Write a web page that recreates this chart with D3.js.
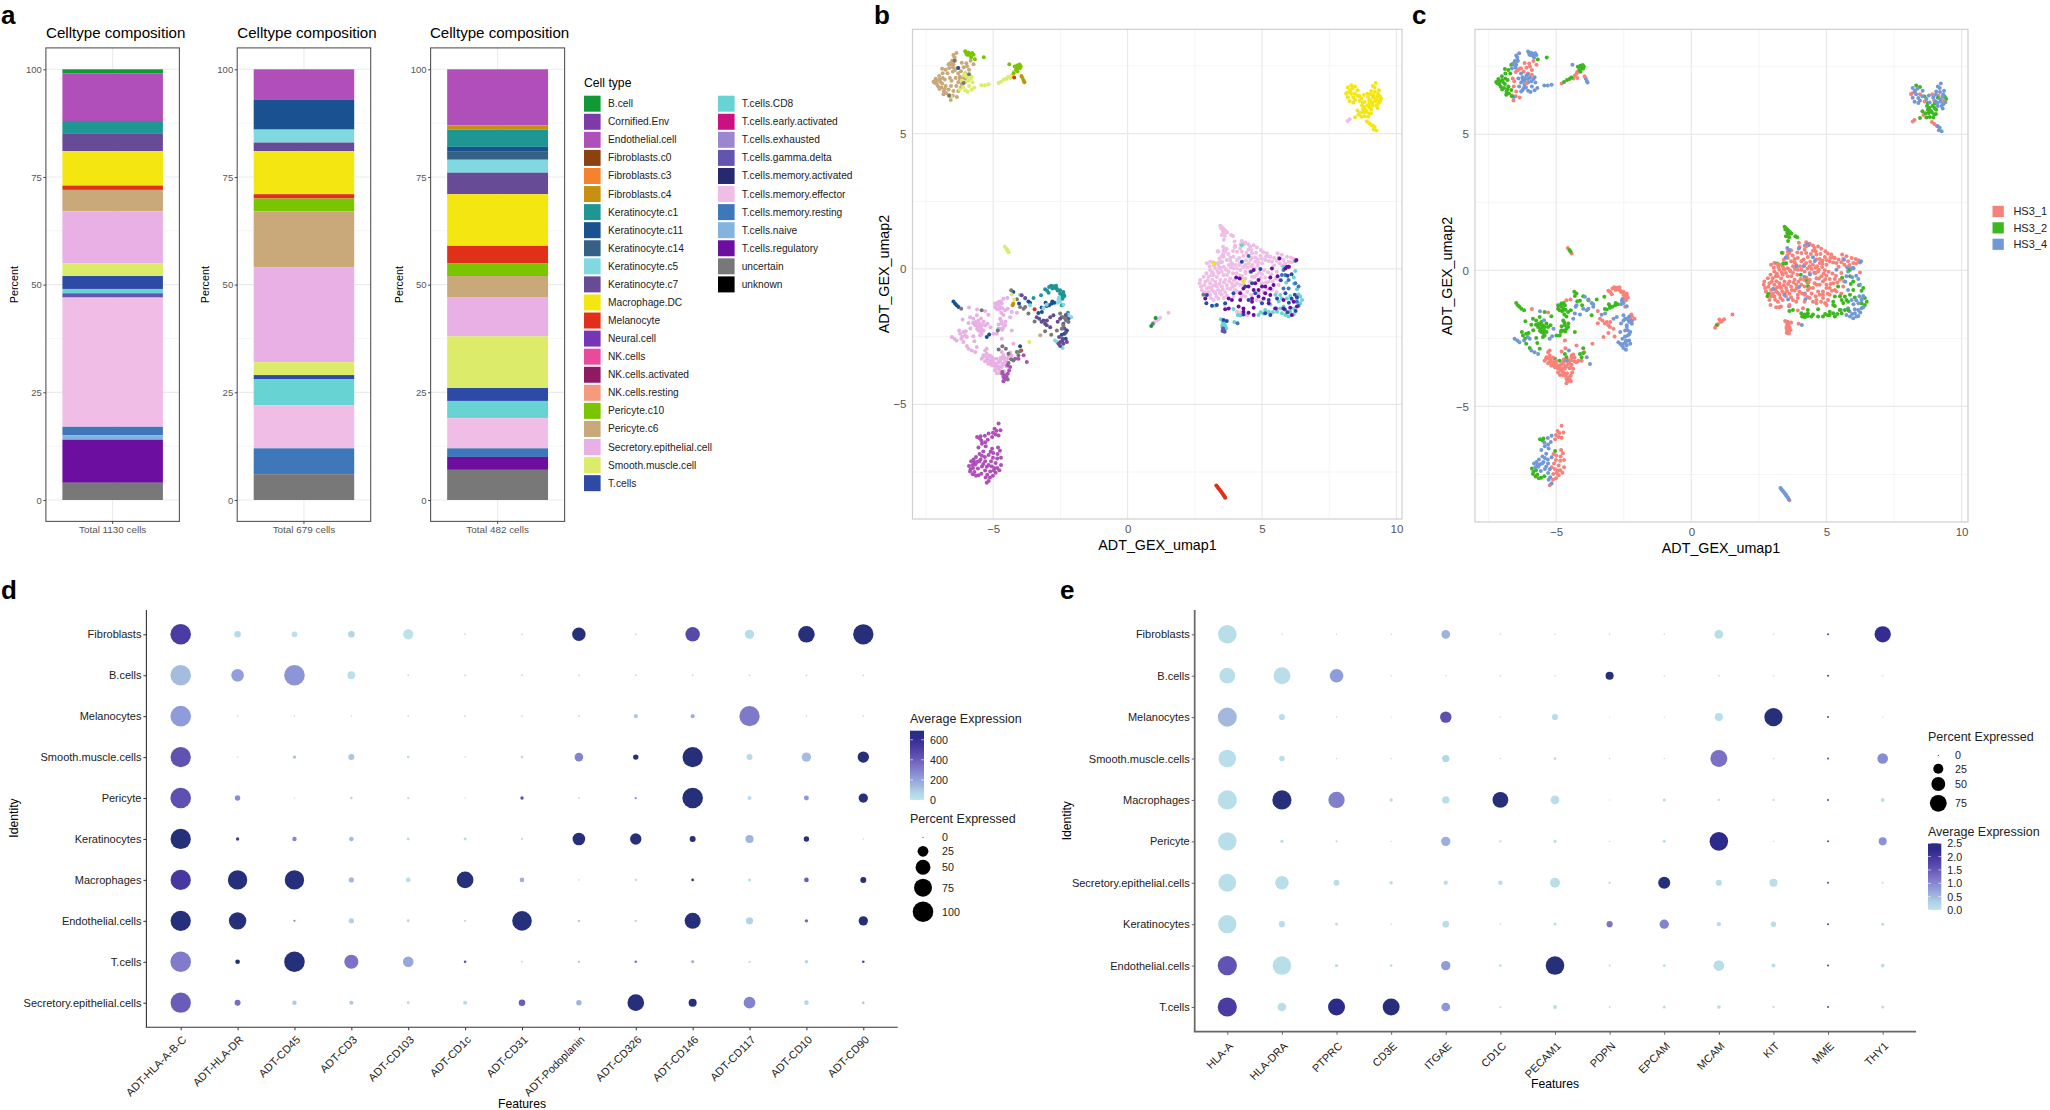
<!DOCTYPE html>
<html><head><meta charset="utf-8">
<script src="https://cdn.jsdelivr.net/npm/d3@7/dist/d3.min.js"></script>
<style>
html,body{margin:0;padding:0;background:#fff}
svg{display:block}
text{font-family:"Liberation Sans",Arial,sans-serif}
</style></head><body><svg id="c" width="2050" height="1110"></svg>
<script>
// ---------- DATA ----------
const legendCol1=["B.cell","Cornified.Env","Endothelial.cell","Fibroblasts.c0","Fibroblasts.c3","Fibroblasts.c4","Keratinocyte.c1","Keratinocyte.c11","Keratinocyte.c14","Keratinocyte.c5","Keratinocyte.c7","Macrophage.DC","Melanocyte","Neural.cell","NK.cells","NK.cells.activated","NK.cells.resting","Pericyte.c10","Pericyte.c6","Secretory.epithelial.cell","Smooth.muscle.cell","T.cells"];
const legendCol2=["T.cells.CD8","T.cells.early.activated","T.cells.exhausted","T.cells.gamma.delta","T.cells.memory.activated","T.cells.memory.effector","T.cells.memory.resting","T.cells.naive","T.cells.regulatory","uncertain","unknown"];
const typeColors={"B.cell":"#109A36","Cornified.Env":"#7E3BA8","Endothelial.cell":"#B04FBA","Fibroblasts.c0":"#8A4212","Fibroblasts.c3":"#F5822D","Fibroblasts.c4":"#C7900F","Keratinocyte.c1":"#1F9594","Keratinocyte.c11":"#1A5190","Keratinocyte.c14":"#366186","Keratinocyte.c5":"#80D9E1","Keratinocyte.c7":"#674B97","Macrophage.DC":"#F4E611","Melanocyte":"#E0301A","Neural.cell":"#7436B4","NK.cells":"#E84B9C","NK.cells.activated":"#8E1A64","NK.cells.resting":"#F49A7D","Pericyte.c10":"#7BC400","Pericyte.c6":"#C9A87A","Secretory.epithelial.cell":"#E8B0E4","Smooth.muscle.cell":"#DDEB6B","T.cells":"#2D4BA6","T.cells.CD8":"#68D3D3","T.cells.early.activated":"#C9117F","T.cells.exhausted":"#9D86D0","T.cells.gamma.delta":"#6354B0","T.cells.memory.activated":"#28286F","T.cells.memory.effector":"#EFBDE6","T.cells.memory.resting":"#3E78BA","T.cells.naive":"#82B4DE","T.cells.regulatory":"#6C0FA0","uncertain":"#787878","unknown":"#000000"};

const comp1Types=["B.cell","Endothelial.cell","Keratinocyte.c1","Keratinocyte.c7","Macrophage.DC","Melanocyte","Pericyte.c6","Secretory.epithelial.cell","Smooth.muscle.cell","T.cells","T.cells.CD8","T.cells.gamma.delta","T.cells.memory.effector","T.cells.memory.resting","T.cells.naive","T.cells.regulatory","uncertain"];
const comp1Pct=[1,11,3,4,8,1,5,12,3,3,1,1,30,2,1,10,4];
const comp2Types=["Endothelial.cell","Keratinocyte.c11","Keratinocyte.c5","Keratinocyte.c7","Macrophage.DC","Melanocyte","Pericyte.c10","Pericyte.c6","Secretory.epithelial.cell","Smooth.muscle.cell","T.cells","T.cells.CD8","T.cells.memory.effector","T.cells.memory.resting","uncertain"];
const comp2Pct=[7,7,3,2,10,1,3,13,22,3,1,6,10,6,6];
const comp3Types=["Endothelial.cell","Fibroblasts.c4","Keratinocyte.c1","Keratinocyte.c11","Keratinocyte.c14","Keratinocyte.c5","Keratinocyte.c7","Macrophage.DC","Melanocyte","Pericyte.c10","Pericyte.c6","Secretory.epithelial.cell","Smooth.muscle.cell","T.cells","T.cells.CD8","T.cells.memory.effector","T.cells.memory.resting","T.cells.regulatory","uncertain"];
const comp3Pct=[13,1,4,1,2,3,5,12,4,3,5,9,12,3,4,7,2,3,7];
const compLabels=["Total 1130 cells","Total 679 cells","Total 482 cells"];

const sampleNames=["HS3_1","HS3_2","HS3_4"];
const sampleColors=["#F8827A","#3CB81E","#7299D6"];
const S1="HS3_1",S2="HS3_2",S4="HS3_4";
const EFF="T.cells.memory.effector",SEC="Secretory.epithelial.cell",REG="T.cells.regulatory",TC="T.cells",CD8="T.cells.CD8",RES="T.cells.memory.resting",K1="Keratinocyte.c1",K11="Keratinocyte.c11",K5="Keratinocyte.c5",K7="Keratinocyte.c7",UN="uncertain",END="Endothelial.cell",C6="Pericyte.c6",C10="Pericyte.c10",SMC="Smooth.muscle.cell",MAC="Macrophage.DC",MEL="Melanocyte",GD="T.cells.gamma.delta",F4="Fibroblasts.c4",BC="B.cell";

const effectorS1=[3.98,1.01,4,.86,4.25,1.03,4.38,.98,4.5,.91,4.69,.88,4.81,.79,4.96,.7,4.56,.82,4.19,.76,4.25,.64,4.07,.64,3.92,.66,3.69,.74,3.57,.68,3.38,.64,3.63,.64,4.31,.49,4.63,.58,4.75,.42,4.94,.49,5.18,.58,5.31,.45,5.25,.29,5.12,.33,5,.21,5.37,.27,5.58,.58,5.74,.52,5.93,.45,6.08,.42,5.8,.33,5.66,.21,5.99,.27,6.18,.37,2.95,.21,3.07,.27,3.26,.21,3.42,.39,3.57,.45,3.69,.33,3.82,.42,3.94,.45,3.51,.27,3.38,.15,3.57,.08,3.76,.15,3.88,.21,4.07,.33,4.19,.21,4.38,.15,4.5,.21,4.75,.27,3.94,.02,4.07,.02,4.19,-.04,4.38,-.1,3.26,.02,3.07,-.04,2.93,-.16,2.83,-.29,2.7,-.41,3.01,-.29,3.2,-.22,3.38,-.16,3.57,-.22,3.76,-.1,3.82,-.35,3.63,-.41,3.45,-.41,3.26,-.47,3.07,-.53,2.89,-.47,2.73,-.65,2.95,-.72,3.14,-.78,3.32,-.65,3.51,-.65,3.69,-.59,3.88,-.53,2.68,-.53,2.76,-.78,2.89,-.86,3.07,-.96,3.26,-.9,3.45,-.84,3.63,-.86,3.82,-.74,4.07,-.53,4.19,-.59,4,-.78,3.38,-1.09,3.2,-1.15,3.69,-.99,4.38,-1.02,4.63,-.29,4.81,-.22,5,-.2,5.12,-.32,5.25,-.47,5,-.53,4.87,-.9,5.37,-.78,5.62,-.59,4.56,-.47,4.38,-.35,3.94,-1.02,3.16,-.12,3.45,.03,3.67,-.03,3.92,-.16,4.26,-.26,3.32,-.3,3.1,-.7,3.7,-.22,4.84,.12,4.6,.1,5.45,.13,5.55,-.1];
const effectorS1b=[3.05,.1,3.22,.12,3.42,.05,3.12,-.22,2.98,-.42,3.15,-.4,3.35,-.08,3.5,-.1,3.65,.0,3.83,.05,4.02,.15,4.3,.07,4.45,.05,4.65,.15,4.85,.25,3.28,-.58,3.42,-.55,3.58,-.5,3.78,-.45,3.96,-.42,3.18,-.62,2.85,-.6,3.02,-.85,3.2,-.82,3.36,-.78,3.54,-.76,3.72,-.72,3.9,-.66,3.5,-.95,3.3,-1.02,3.1,-1.08,4.4,.32,4.62,.4,4.85,.36,5,.38,5.14,.45,4.42,.6,4.6,.7,4.78,.6,5.05,.62,5.25,.47,5.45,.4,5.62,.42,5.85,.2,6.1,.25,5.75,.12,5.55,.3,4.72,.02,4.9,-.12,5.08,-.05,5.22,-.12,5.35,-.2,5.5,-.35,5.4,-.45,4.72,-.3,4.95,-.33,5.15,-.5,4.95,-1.2,4.8,-1.15,4.45,-.85,4.6,-.95,4.1,-.85,4.3,-.98,5.05,-.85,5.2,-.75,5.55,-.85,5.65,-.4,3.75,.55,3.55,.55,3.82,.3,4.15,.4,4.5,.72];
const effectorS2=[3.45,1.6,3.5,1.55,3.55,1.5,3.6,1.45,3.65,1.4,3.55,1.38,3.6,1.33,3.7,1.35,3.5,1.25,3.62,1.22,3.85,1.25,3.92,1.22,3.58,1.08,3.48,1.5,3.58,1.42,3.35,.65,3.18,.25,3.4,.25,3.5,.25,4.25,-.37,4.3,-.46,4.32,-.58,4.05,-.16,2.84,-.87,4.44,-1.7,4.07,-1.58,4.19,-1.62];
const effectorS4=[3.62,.75,3.49,.46,3.89,.15,4.16,.15,4.57,.34,4.39,-.15,4.55,-.09,4.18,-.24,3.03,-.68,3.44,-.91,3.58,-1.07,3.62,-1.32,3.99,-.61,4.2,.9,4.28,.96,4.34,.92,3.98,.8,3.55,.82,4.2,-.85,4.22,-1.06];
const effectorMid=[.94,-2.02,1.14,-1.86,1.21,-1.8,1.52,-1.62,.98,-1.98,1.08,-1.9];
const effectorYellowTail=[8.19,5.47,8.26,5.53];

const regulatoryS1=[4.04,-.32,4.17,-.35,4.87,-.41,5.31,-.32,4.69,-.04,4.31,-.72,4.5,-.65,4.69,-.78,4.87,-.78,5.12,-.65,5.31,-.72,4.19,-.9,3.76,-1.09,3.88,-1.15,4.19,-1.15,4.87,-1.02,5.06,-1.09,4.63,-1.21,4.13,-1.39,2.89,-1.09,5,-.65,4.75,-.53,4.63,-1.09,5.12,-.9];
const regulatoryS2=[5.58,-.27,5.87,.02,4.69,-1.43,4.31,-1.46,3.63,-1.49,4.31,-1.58,4.5,-1.62,4.69,-1.7,3.76,-1.46,5.31,-.96,5.43,-.59,5.25,-1.27,5.49,-1.46,5.8,-1.15,5.8,-1.46];
const regulatoryS4=[5.65,.39,6.28,.33,6,.08,5.37,.02,5.93,.08,6.05,-1.43,6.3,-1.39,6.18,-1.21,6.11,-1.7];
const tcellsS1=[4.25,.27,4.59,-.1,4.94,0,4.38,-.65,4.63,-.53,4.75,-.9,4.5,-1.15,5,-1.27,3.94,-.9,2.95,-.96,2.93,-1.27,3.14,-1.36,3.32,-1.33,3.63,-1.27];
const tcellsS2=[5.12,-1.64,5.31,-1.7,4.31,-1.68,5.56,-1.09,5.87,-.9,5.25,-1.15];
const tcellsS4=[6,-1.25,6.1,-1.1,6.3,-1.05,6.22,-.95,5.85,-1.5,5.95,-1.6,6.25,-1.55,5.7,-.42,5.95,-.25,6.1,-.2];
const restingS2=[5.87,-.22,5.99,-.41,6.36,-.65,5.99,-.72,6.3,-1.21];
const restingS4=[4.5,.48,5.8,-.72,5.74,-.22,6.24,-.53,5.99,.08,5.8,-.04,6.36,-1.36,5.53,-1.46,6.24,.29,4.09,-2.01];
const tcellsStalkS1=[3.57,-1.89,3.69,-1.92];
const cd8S1=[4.25,.88,3.47,-1.86,3.57,-2.01,3.63,-2.1,3.57,-2.17,3.53,-2.07,3.67,-2.19,3.97,-1.96,3.94,-1.48,3.26,-1.36,6.24,-.08,3.55,-1.95,3.6,-1.98,3.52,-2.12,3.62,-2.22,3.58,-2.3];
const cd8S2=[5.31,-1.31,4.87,-1.7,5.12,-1.52,5.25,-1.58,5.56,-1.58,5.74,-1.09,6.42,-1.02,6.49,-1.15,6.42,-1.27,5.68,-.96,5.68,-1.46,5.9,-.5,5.05,-1.65,4.95,-1.6,5.4,-1.6,6.05,-1,6.2,-.55,6.3,-.75,5.5,-.95,5.62,-1.2,4.1,-1.7,4.2,-1.72];
const cd8S4=[5.8,.08,6.18,-.32,6.36,-.94,5.93,-1.09,5.8,-1.39,5.74,-1.64,5.87,-1.7,5.99,-1.76,6.05,-1.58,6.18,-1.46,6.18,-1.68,6.3,-1.09];
const gammaStalkS1=[3.57,-2.26,3.53,-2.29,3.61,-2.32,3.55,-2.2];

const secS2=[-6.23,-2.39,-6.11,-2.33,-6.27,-2.27,-6.14,-1.87,-6.11,-2.7,-5.98,-2.85,-5.61,-2.88,-5.7,-2.67,-5.74,-2.49,-5.49,-2.45,-5.86,-1.78,-5.74,-1.84,-5.92,-2,-5.67,-2.08,-5.61,-1.71,-5.55,-1.9,-5.49,-2.02,-5.45,-2.21,-5.55,-2.27,-5.36,-2.27,-5.43,-2.39,-5.3,-2.08,-5.18,-1.69,-4.93,-1.28,-4.81,-1.22,-4.68,-1.28,-4.74,-1.41,-4.87,-1.47,-4.93,-1.41,-4.46,-1.47,-4.56,-1.53,-4.74,-1.84,-4.68,-2.02,-4.62,-2.15,-4.74,-2.21,-4.56,-2.08,-4.31,-2.27,-4.87,-2.39,-4.99,-2.39,-5.21,-2.02,-5.05,-3.25,-4.68,-3.07,-4.62,-3.19,-4.87,-3.32,-5.58,-2.15,-5.66,-1.96,-4.7,-1.92,-5.62,-2,-5.52,-2.1,-5.42,-2.08,-5.36,-1.95,-5.6,-2.22,-5.48,-2.3,-5.75,-2,-4.82,-1.32,-4.72,-1.2,-4.78,-1.5,-4.66,-1.45,-4.62,-1.7,-4.7,-1.62,-4.8,-2.05,-4.66,-2.25,-4.55,-1.95,-6.15,-2.5,-6.02,-2.3,-5.85,-2.2];
const secS1=[-5.24,-2.95,-5.36,-3.19,-5.43,-3.32,-5.3,-3.41,-5.18,-3.5,-5.05,-3.56,-4.93,-3.62,-5.24,-3.25,-5.11,-3.38,-4.99,-3.44,-4.87,-3.5,-4.74,-3.38,-4.56,-3.44,-4.81,-3.69,-4.68,-3.62,-4.43,-3.19,-4.93,-3.75,-4.74,-3.75,-4.37,-3.09,-4.25,-2.76,-5.24,-3.13,-5.3,-3.01,-4.68,-2.58,-5.2,-3.3,-5.05,-3.42,-4.92,-3.55,-4.62,-3.52,-4.5,-3.6,-4.86,-3.85,-4.6,-3.78,-5.3,-1.55,-5.9,-1.42,-4.62,-1.1,-4.47,-1.07,-5.12,-3.2,-5,-3.32,-4.8,-3.45,-5.25,-3.38,-5.12,-3.48,-4.98,-3.55,-4.86,-3.62,-4.76,-3.6,-4.66,-3.5,-4.52,-3.38,-4.45,-3.3,-4.32,-3.2,-4.72,-3.28,-5.38,-3.26,-4.75,-3.85,-4.55,-3.3];
const secS4=[-6.54,-2.51,-6.44,-2.58,-6.36,-2.64,-6.19,-2.58,-6.05,-2.45,-5.98,-2.51,-5.67,-3.07,-5.8,-3.01,-5.92,-2.95,-4.37,-1.78,-4.31,-1.59,-4.12,-1.62,-5.6,-1.5,-5.45,-1.83,-4.62,-3.32,-5.1,-2.15];
const k1S1=[-3.07,-.75,-2.92,-.67,-2.76,-.64,-2.63,-.73,-2.51,-.79,-2.39,-.85,-2.35,-1,-2.42,-1.1,-2.45,-1.34,-2.51,-.91,-2.7,-.7,-2.94,-.88,-2.22,-1.62,-2.26,-1.78,-2.85,-.62,-2.6,-.8,-2.8,-.72,-2.66,-.62,-2.45,-.95,-2.38,-.95,-2.48,-1.05,-3,-.8];
const k1S2=[-3.22,-.97,-3.5,-1.07];
const k11S2=[-6.48,-1.2,-6.42,-1.28,-6.36,-1.34,-6.29,-1.41,-4.25,-.85,-2.82,-1.28,-2.72,-1.25,-2.92,-1.34,-3.01,-1.37,-4,-2.86,-4.04,-1.28,-3.05,-1.25,-3.2,-1.42,-2.8,-1.2];
const k11S4=[-5.24,-2.51,-5.15,-2.42,-3.69,-1.2,-3.63,-1.25,-3.19,-1.59,-3.32,-1.63,-2.26,-2.27,-2.35,-2.39,-2.45,-2.43,-2.3,-2.58];
const k5S1=[-2.2,-1.69,-2.1,-1.78];
const k5S2=[-4,-.95,-3.81,-1.1,-3.13,-1.44,-3.01,-1.32,-4.81,-2.21];
const k5S4=[-3.63,-1.34,-2.57,-1.12,-2.51,-1.2,-2.39,-1.32,-2.7,-2.64,-2.42,-2.92,-2.63,-2.7,-2.55,-1.05,-2.6,-1.25];
const k7S1=[-3.13,-1.9,-3.07,-2.02,-3.01,-2.08,-2.88,-2.15,-3.38,-1.78,-3.29,-1.84,-3.2,-1.95,-3,-1.9];
const k7S4=[-2.88,-1.78,-2.76,-1.71,-2.51,-1.84,-2.45,-1.78,-2.39,-2.02,-2.57,-2.76,-2.51,-2.85,-2.39,-2.76,-2.26,-2.7,-2.42,-2.64,-2.55,-2.51,-3.94,-.97,-3.81,-1.07,-2.35,-2.2,-2.3,-2.35,-2.42,-2.58,-2.5,-2.7,-2.6,-1.95,-2.3,-1.7,-2.2,-1.85];
const uncS1=[-3.46,-1.94,-3.07,-2.3,-2.84,-2.43,-4.66,-2.86,-4.8,-2.98,-4.43,-3.13,-4.33,-3.34,-4.25,-3.38,-4.43,-3.47,-4.66,-3.81,-4.46,-4.08,-5.9,7.19,-6.1,6.87];
const uncS2=[-4.33,-.79,-4.12,-1.12,-3.69,-1.65,-5.43,-1.53,-4.83,-2.27,-4.12,-3.07,-4.06,-3.19,-4,-3.04,-6.19,-1.47,-6.64,6.4,.94,-2.02,2.82,-.95];
const uncS4=[-4,-1.41,-3.87,-1.47,-3.81,-1.41,-2.51,-1.65,-2.39,-1.78,-2.32,-1.84,-2.2,-1.96,-2.39,-2.08,-2.29,-1.9,-4.53,-2.95,-2.63,-2.27,-2.45,-2.21,-6.44,7.69];
const endoLeftS1=[-4.66,-3.87,-4.56,-3.93,-4.46,-3.87,-4.62,-3.99,-4.5,-3.99,-4.58,-4.08,-4.62,-4.15,-4.37,-3.62,-4.47,-3.56,-4.18,-3.32,-4.06,-3.32,-4.41,-3.75];
const endoLeftS4=[-3.87,-3.19,-3.75,-3.44];
const endoS1=[-4.8,-5.71,-4.73,-5.96,-4.88,-5.98,-5.01,-6.05,-5.04,-6.21,-4.91,-6.12,-5.01,-6.97,-4.84,-6.84,-4.71,-6.97,-4.91,-7.17,-4.71,-7.24,-4.77,-7.44,-4.91,-7.53,-5.11,-7.48,-5.01,-7.64,-5.17,-7.24,-5.24,-7.9,-4.82,-6.6,-4.95,-7.36,-5.08,-7.1,-5.05,-7.3,-4.85,-7,-4.75,-6.72,-5,-6.8,-5.1,-6.75,-4.98,-7.45,-4.85,-7.35,-5.12,-7.7,-4.8,-6.15,-4.95,-5.9];
const endoS2=[-5.6,-6.21,-5.47,-6.18,-5.9,-7.28,-5.84,-7.4,-5.7,-7.5,-5.64,-7.64,-5.44,-7.57,-5.04,-6.64,-5.76,-7.58,-5.86,-7.48,-5.75,-7.35,-5.55,-7.62,-5.5,-6.25];
const endoS4=[-5.31,-6.16,-5.44,-6.34,-5.2,-6.31,-5.17,-6.08,-5.28,-6.55,-5.37,-6.74,-5.51,-6.84,-5.64,-6.95,-5.73,-7.04,-5.77,-7.24,-5.6,-7.13,-5.47,-7.04,-5.31,-6.95,-5.17,-6.87,-5.24,-7.31,-5.37,-7.21,-5.57,-7.37,-5.28,-7.7,-5.17,-7.83,-5.42,-6.46,-5.66,-7.22,-5.7,-7.15,-5.82,-7.1,-5.52,-7.1,-5.42,-7.3,-5.3,-7.1,-5.55,-6.6,-5.3,-7.45,-5.22,-7.6,-5.42,-6.9,-5.3,-6.4];
const c6S1=[-6.34,7.42,-6.17,7.62,-5.97,7.49,-5.84,7.69,-5.73,7.56,-5.9,7.36,-6.04,7.23,-6.5,7.29,-6.61,7.05,-6.57,6.76,-6.64,6.43,-6.48,6.57,-6.58,6.24,-6.42,7.35,-6.2,7.3,-6.1,7.45,-6,7.6,-6.55,6.95,-6.5,6.4,-6.35,6.35];
const c6S2=[-6.66,7.56,-6.77,7.36,-6.7,7.23,-6.88,7.23,-7.01,7.13,-7.14,7.03,-7.22,6.92,-7.1,6.83,-6.97,6.92,-6.8,7,-6.93,6.7,-6.77,6.76,-6.66,6.63,-6.84,6.57,-7.16,6.95,-7.05,6.75,-6.9,6.85,-6.8,6.66,-7.18,6.88,-7.1,6.95,-7,7,-6.88,7.05,-7,6.65,-6.85,6.45,-6.75,6.5,-6.9,7.4];
const c6S4=[-6.37,7.98,-6.44,7.82,-6.53,7.69,-6.48,7.56,-6.64,7.42,-6.3,7.23,-6.4,7.05,-6.24,7,-6.37,6.76,-6.17,6.83,-6.04,7.03,-6.3,6.57,-6.42,7.7,-6.5,7.45,-6.55,7.55,-6.25,7.1,-6.15,7.05,-6.2,6.7,-6.3,6.9,-6.48,7.9,-6.6,7.6];
const c10S1=[-4.24,7.23];
const c10S2=[-5.68,7.75,-5.35,7.82,-4.11,7.52,-3.98,7.49,-4.15,7.36,-4.05,7.42,-4.02,7.55,-4.08,7.46,-4,7.42,-4.1,7.3,-4.2,7.48];
const c10S4=[-6.04,8.04,-5.93,8,-5.84,7.95,-5.73,7.91,-5.97,7.91,-5.82,7.82,-4.4,7.56,-3.91,7.05,-6,7.95,-5.88,7.9,-5.78,7.98];
const smcS1=[-4.8,6.87,-4.37,7.05,-4.31,7.16,-4.22,7.29,-4.57,.82,-4.43,.62];
const smcS2=[-4.71,6.92,-4.6,7,-4.51,7.03,-4.44,7.09,-4.51,.75,-4.47,.69];
const smcS4=[-6.1,7.16,-5.97,7.09,-5.84,7.03,-6.17,6.96,-6.04,6.9,-5.9,6.76,-5.77,6.9,-5.7,6.7,-6.24,6.63,-6.04,6.6,-6.57,6.37,-5.44,6.79,-5.31,6.79,-5.17,6.82,-6.05,7.2,-5.8,7.1,-5.92,6.95,-6.12,6.72,-5.8,6.62,-5.95,6.55];
const melS1=[3.63,-8.45,-3.46,-1.49,-3.96,-3.01,-4.22,7.07];
const melS4=[3.3,-8,3.34,-8.05,3.38,-8.1,3.42,-8.15,3.46,-8.2,3.5,-8.25,3.53,-8.3,3.57,-8.35,3.6,-8.4];
const macS1=[8.13,6.47,8.46,6.47,8.63,6.21,8.99,6.24,9.3,6.24,8.59,5.71,8.99,5.38,9.08,5.31,8.92,6.47,3.2,.22,4.33,-.45,8.9,5.45,8.15,6.5,9.15,6.42];
const macS2=[8.32,6.79,8.46,6.74,8.63,6.39,9.43,6.3,8.72,6.04,8.92,6.04,8.86,5.87,9.06,5.9,8.99,5.73,8.82,5.64,8.46,5.6,8.75,5.9,8.66,5.77,9.12,6.34,8.8,5.98,9,5.97,9.38,6.38,8.75,6.15,8.9,5.8,8.78,5.78,8.7,5.62,8.95,5.62,8.55,5.85,9.05,5.75,9,6.12];
const macS4=[8.19,6.7,8.56,6.6,8.19,6.34,8.32,6.47,8.26,6.2,8.46,6.24,8.79,6.43,9.06,6.57,9.19,6.7,9.23,6.87,9.12,6.76,9.32,6.47,8.82,6.17,9.12,6.04,9.26,6.04,9.32,6.1,9.19,5.24,9.26,5.11,9.16,5.15,8.28,6.6,8.4,6.33,9.2,6.3,9.05,6.2,9.3,6.38,8.37,6.68,8.25,6.55,8.55,6.4,8.4,6.15,8.7,6.3,8.95,6.35,9.05,6.45,9.2,6.55,9.35,6.6,9.1,6.15,9.22,6.2,9.4,6.18,9.3,5.95,9.12,5.3];
const smallSingles=[[BC,S1,[.88,-2.11,1.04,-1.81]],[F4,S4,[-4.28,-1.34,-4.25,-1.28,-3.87,6.96,-3.84,6.9]],[SMC,S2,[-4.22,-1.14,-4.31,-.94]],[SMC,S1,[-3.66,-2.7]],[C6,S1,[-3.25,-2.45]],[F4,S1,[-3.95,7.13]],[TC,S1,[-6.3,7.42]]];

const cellGroups=[[EFF,S1,effectorS1],[EFF,S1,effectorS1b],[EFF,S2,effectorS2],[EFF,S4,effectorS4],[EFF,S1,effectorMid],[EFF,S1,effectorYellowTail],
[SEC,S2,secS2],[SEC,S1,secS1],[SEC,S4,secS4],[C6,S1,c6S1],[C6,S2,c6S2],[C6,S4,c6S4],[SMC,S1,smcS1],[SMC,S2,smcS2],[SMC,S4,smcS4],[C10,S1,c10S1],[C10,S2,c10S2],[C10,S4,c10S4],
[MAC,S1,macS1],[MAC,S2,macS2],[MAC,S4,macS4],[END,S1,endoS1],[END,S2,endoS2],[END,S4,endoS4],[END,S1,endoLeftS1],[END,S4,endoLeftS4],[MEL,S1,melS1],[MEL,S4,melS4],
[K1,S1,k1S1],[K1,S2,k1S2],[K11,S2,k11S2],[K11,S4,k11S4],[K5,S1,k5S1],[K5,S2,k5S2],[K5,S4,k5S4],[K7,S1,k7S1],[K7,S4,k7S4],[UN,S1,uncS1],[UN,S2,uncS2],[UN,S4,uncS4],
[CD8,S1,cd8S1],[CD8,S2,cd8S2],[CD8,S4,cd8S4],[GD,S1,gammaStalkS1],[RES,S2,restingS2],[RES,S4,restingS4],[TC,S1,tcellsS1],[TC,S2,tcellsS2],[TC,S4,tcellsS4],[TC,S1,tcellsStalkS1],[REG,S1,regulatoryS1],[REG,S2,regulatoryS2],[REG,S4,regulatoryS4],...smallSingles];

const dRows=["Fibroblasts","B.cells","Melanocytes","Smooth.muscle.cells","Pericyte","Keratinocytes","Macrophages","Endothelial.cells","T.cells","Secretory.epithelial.cells"];
const dFeatures=["ADT-HLA-A-B-C","ADT-HLA-DR","ADT-CD45","ADT-CD3","ADT-CD103","ADT-CD1c","ADT-CD31","ADT-Podoplanin","ADT-CD326","ADT-CD146","ADT-CD117","ADT-CD10","ADT-CD90"];
const dPct=[
[100,8,6,8,22,.2,.2,40,.2,47,18,63,97],
[100,35,100,12,.2,.2,.2,.2,.2,.2,.2,.2,.2],
[100,.1,.1,.1,.2,.2,.2,.2,2.5,2.5,97,.1,.1],
[97,.1,1.5,6.5,.7,.1,.7,15,5,97,6.5,18,28],
[100,5,.1,.5,.4,.1,1.5,.2,.4,100,2.5,4,18],
[97,1.5,3,3.5,1,1,.4,35,28,6.5,13,5,.1],
[97,88,88,5,3.5,64,3.5,.1,.4,.7,1,3.5,6.5],
[97,70,.4,5,1,.4,90,.5,.5,59,10,1.5,18],
[100,3.5,100,45,24,.7,.2,.4,.7,1,.4,1.5,.7],
[97,6.5,3,2.5,1,2.5,8,5,64,13,30,3.5,.5]];
const dExpr=[
[520,40,20,70,10,5,5,690,5,470,30,690,690],
[130,210,240,15,10,10,10,10,10,10,10,10,10],
[220,10,10,10,10,10,10,10,100,170,320,10,10],
[430,10,120,110,30,10,50,290,690,690,40,130,690],
[440,260,10,60,40,10,450,10,280,690,30,230,690],
[690,550,280,130,30,30,30,690,690,690,150,690,10],
[540,690,690,130,30,690,160,10,50,650,30,400,690],
[690,690,260,80,30,30,690,120,50,690,70,370,690],
[310,690,690,340,190,440,30,120,340,180,30,70,480],
[400,350,100,100,30,30,400,150,690,690,290,60,120]];
const dExprTicks=[0,200,400,600], dExprMax=690, dPctTicks=[0,25,50,75,100];

const eRows=["Fibroblasts","B.cells","Melanocytes","Smooth.muscle.cells","Macrophages","Pericyte","Secretory.epithelial.cells","Keratinocytes","Endothelial.cells","T.cells"];
const eFeatures=["HLA-A","HLA-DRA","PTPRC","CD3E","ITGAE","CD1C","PECAM1","PDPN","EPCAM","MCAM","KIT","MME","THY1"];
const ePct=[
[93,.1,.1,.1,18,.1,.1,.1,.1,18,.1,.3,71],
[66,77,48,.1,.1,.1,.1,15,.1,.15,.1,.3,.1],
[98,8,.1,.05,33,.1,8,.05,.05,15,90,.3,.05],
[83,6,.05,.05,12,.1,.9,.05,.05,77,.05,.3,28],
[100,100,71,1.7,12,66,18,.05,1.3,.5,.5,.3,2.7],
[92,1.3,.5,.05,21,.5,1.3,.05,1.3,93,.05,.3,15],
[86,48,7,1.7,3.3,4,24,.5,37,8,15,.3,.3],
[90,8,.9,.05,10,.05,.9,8,21,3.3,6,.3,1.3],
[100,93,1.7,.9,21,.9,93,.3,.9,28,2.7,.3,2.2],
[100,18,77,77,18,.3,2.7,.2,1.3,2.2,.5,.3,1.3]];
const eExpr=[
[.1,.1,.1,.1,.55,.1,.1,.1,.1,.1,.1,1.8,2.2],
[.1,.1,.8,.1,.1,.1,.1,2.5,.1,.1,.1,1.8,.1],
[.5,.1,.1,.1,1.6,.1,.1,.1,.1,.1,2.5,1.8,.1],
[.1,.1,.1,.1,.2,.1,.1,.1,.1,1.25,.1,1.8,.95],
[.1,2.5,1.1,.1,.1,2.5,.1,.1,.1,.1,.1,1.8,.1],
[.1,.1,.1,.1,.6,.1,.1,.1,.1,2.3,.1,1.8,.9],
[.1,.1,.1,.1,.1,.1,.1,.1,2.5,.1,.1,1.8,.1],
[.1,.1,.1,.1,.1,.1,.1,1.2,1.05,.1,.1,1.8,.1],
[1.55,.1,.1,.1,.8,.1,2.5,.1,.1,.1,.1,1.8,.1],
[1.9,.1,2.3,2.5,.85,.1,.1,.1,.1,.1,.1,1.8,.1]];
const eExprTicks=[0,.5,1,1.5,2,2.5], eExprMax=2.5, ePctTicks=[0,25,50,75];

// ---------- DRAW ----------
const svg=d3.select("#c");
const ramp=d3.scaleLinear().domain([0,.12,.2,.32,.5,.62,.76,.9,1]).range(["#BCE4EC","#B0D2E6","#A2B9DD","#8F9CDA","#7A70C5","#6153B3","#4A3BA3","#2F2A8E","#26307A"]);
const FONT="'Liberation Sans',Arial,sans-serif";
function txt(g,x,y,s,o={}){const t=g.append("text").attr("x",x).attr("y",y).text(s).attr("font-size",o.size||11).attr("fill",o.fill||"#000").attr("text-anchor",o.anchor||"start").attr("dominant-baseline",o.base||"auto");
 if(o.weight)t.attr("font-weight",o.weight); if(o.rot!=null)t.attr("transform",`rotate(${o.rot} ${x} ${y})`); return t;}

// panel letters
[["a",1,24],["b",874,24],["c",1412,24],["d",1,599],["e",1060,599]].forEach(([s,x,y])=>txt(svg,x,y,s,{size:26,weight:"bold"}));

// panel a
const compData=[[comp1Types,comp1Pct],[comp2Types,comp2Pct],[comp3Types,comp3Pct]];
const compBoxes=[[45.9,179.4],[237.2,370.7],[430.6,564.6]];
const compTop=47.9,compBot=521.4,yComp=d3.scaleLinear().domain([0,100]).range([500,69.3]);
compData.forEach(([types,pcts],i)=>{
 const [x0,x1]=compBoxes[i];const g=svg.append("g");
 const xb=d3.scaleBand().domain([compLabels[i]]).range([x0,x1]).padding(.141);
 const mid=(x0+x1)/2;
 [12.5,37.5,62.5,87.5].forEach(v=>g.append("line").attr("x1",x0).attr("x2",x1).attr("y1",yComp(v)).attr("y2",yComp(v)).attr("stroke","#f0f0f0").attr("stroke-width",.7));
 [0,25,50,75,100].forEach(v=>g.append("line").attr("x1",x0).attr("x2",x1).attr("y1",yComp(v)).attr("y2",yComp(v)).attr("stroke","#ebebeb").attr("stroke-width",1.1));
 g.append("line").attr("x1",mid).attr("x2",mid).attr("y1",compTop).attr("y2",compBot).attr("stroke","#ebebeb").attr("stroke-width",1.1);
 const tops=[];let acc=100;pcts.forEach(p=>{tops.push(acc);acc-=p;});
 g.selectAll("rect.s").data(types).join("rect").attr("x",xb(compLabels[i])).attr("width",xb.bandwidth())
  .attr("y",(d,k)=>yComp(tops[k])).attr("height",(d,k)=>yComp(tops[k]-pcts[k])-yComp(tops[k])).attr("fill",d=>typeColors[d]);
 g.append("rect").attr("x",x0).attr("y",compTop).attr("width",x1-x0).attr("height",compBot-compTop).attr("fill","none").attr("stroke","#555").attr("stroke-width",1.1);
 const ay=g.append("g").attr("transform",`translate(${x0},0)`).call(d3.axisLeft(yComp).tickValues([0,25,50,75,100]).tickSize(2.5).tickPadding(1.5));
 ay.select(".domain").remove();ay.selectAll("text").attr("font-size",9.5).attr("fill","#555").attr("font-family",FONT);ay.selectAll("line").attr("stroke","#444");
 const ax=g.append("g").attr("transform",`translate(0,${compBot})`).call(d3.axisBottom(xb).tickSize(2.5).tickPadding(2));
 ax.select(".domain").remove();ax.selectAll("text").attr("font-size",9.9).attr("fill","#555").attr("font-family",FONT);ax.selectAll("line").attr("stroke","#444");
 txt(g,mid+(i==2?2:3),37.5,"Celltype composition",{size:15.1,anchor:"middle"});
 txt(g,x0-27,284.6,"Percent",{size:10.8,anchor:"middle",rot:-90}).attr("dy",-1);
});
// cell type legend
txt(svg,584,87,"Cell type",{size:12.2});
[[legendCol1,584,608],[legendCol2,718,741.7]].forEach(([items,sx,tx])=>{
 const g=svg.append("g");
 items.forEach((s,i)=>{const y=103.7+i*18.07;
  g.append("rect").attr("x",sx).attr("y",y-8).attr("width",16.6).attr("height",16).attr("fill",typeColors[s]);
  txt(g,tx,y,s,{size:10.2,base:"central",fill:"#222"});
 });
});

// panels b & c
function scatter(o){
 const g=svg.append("g");
 const x=d3.scaleLinear().domain([-5,10]).range([o.xm5,o.x10]);
 const y=d3.scaleLinear().domain([-5,5]).range([o.ym5,o.y5]);
 [-7.5,-2.5,2.5,7.5].forEach(v=>{g.append("line").attr("x1",x(v)).attr("x2",x(v)).attr("y1",o.top).attr("y2",o.bot).attr("stroke","#f1f1f1").attr("stroke-width",.8);
  g.append("line").attr("y1",y(v)).attr("y2",y(v)).attr("x1",o.left).attr("x2",o.right).attr("stroke","#f1f1f1").attr("stroke-width",.8);});
 [-5,0,5,10].forEach(v=>g.append("line").attr("x1",x(v)).attr("x2",x(v)).attr("y1",o.top).attr("y2",o.bot).attr("stroke","#e9e9e9").attr("stroke-width",1.2));
 [-5,0,5].forEach(v=>g.append("line").attr("y1",y(v)).attr("y2",y(v)).attr("x1",o.left).attr("x2",o.right).attr("stroke","#e9e9e9").attr("stroke-width",1.2));
 g.append("rect").attr("x",o.left).attr("y",o.top).attr("width",o.right-o.left).attr("height",o.bot-o.top).attr("fill","none").attr("stroke","#cfcfcf").attr("stroke-width",1.2);
 const pts=[];cellGroups.forEach(([t,s,a])=>{for(let i=0;i+1<a.length;i+=2)pts.push({x:a[i],y:a[i+1],t,s});});
 g.selectAll("circle").data(pts).join("circle").attr("cx",d=>x(d.x)).attr("cy",d=>y(d.y)).attr("r",2).attr("fill",o.color);
 const ax=g.append("g").attr("transform",`translate(0,${o.bot})`).call(d3.axisBottom(x).tickValues([-5,0,5,10]).tickSize(0).tickPadding(6));
 ax.select(".domain").remove();ax.selectAll("text").attr("font-size",11.5).attr("fill","#555").attr("font-family",FONT);
 const ay=g.append("g").attr("transform",`translate(${o.left},0)`).call(d3.axisLeft(y).tickValues([-5,0,5]).tickSize(0).tickPadding(6));
 ay.select(".domain").remove();ay.selectAll("text").attr("font-size",11.5).attr("fill","#555").attr("font-family",FONT);
 txt(g,o.xtx,o.xty,"ADT_GEX_umap1",{size:14.3,anchor:"middle"});
 txt(g,o.ytx,o.yty,"ADT_GEX_umap2",{size:14.3,anchor:"middle",rot:-90});
}
scatter({left:912.5,right:1402,top:29.3,bot:519,xm5:993.2,x10:1396.4,ym5:404.3,y5:133.6,color:d=>typeColors[d.t],xtx:1157.5,xty:550,ytx:889,yty:274});
scatter({left:1475,right:1968,top:29.3,bot:522,xm5:1556.2,x10:1961.6,ym5:406.4,y5:134.3,color:d=>sampleColors[sampleNames.indexOf(d.s)],xtx:1721,xty:553,ytx:1452,yty:276});
const sl=svg.append("g");
sampleNames.forEach((s,i)=>{const y=211.4+i*16.45;
 sl.append("rect").attr("x",1992.5).attr("y",y-5.6).attr("width",11.3).attr("height",11.2).attr("fill",sampleColors[i]);
 txt(sl,2013.4,y,s,{size:11,base:"central",fill:"#222"});});

// panels d & e
function dotplot(o){
 const g=svg.append("g");
 const x=d3.scalePoint().domain(o.features).range([o.x0,o.x1]);
 const y=d3.scalePoint().domain(o.rows).range([o.y0,o.y1]);
 const r=d3.scaleSqrt().domain([0,100]).range([.5,o.rmax]);
 const col=v=>ramp(Math.min(1,v/o.emax));
 const dots=[];o.rows.forEach((rn,i)=>o.features.forEach((f,j)=>dots.push({rn,f,p:o.pct[i][j],e:o.expr[i][j]})));
 g.selectAll("circle").data(dots).join("circle").attr("cx",d=>x(d.f)).attr("cy",d=>y(d.rn)).attr("r",d=>r(d.p)).attr("fill",d=>col(d.e));
 const ax=g.append("g").attr("transform",`translate(0,${o.axisY})`).call(d3.axisBottom(x).tickSize(3));
 ax.select(".domain").remove();ax.selectAll("line").attr("stroke",o.axColor);
 ax.selectAll("text").attr("y",0).attr("dy",0).attr("font-size",o.fs).attr("fill","#222").attr("font-family",FONT).attr("text-anchor","end").attr("transform",`translate(${o.lx},${o.ly}) rotate(-45)`);
 const ay=g.append("g").attr("transform",`translate(${o.axisX},0)`).call(d3.axisLeft(y).tickSize(3).tickPadding(2));
 ay.select(".domain").remove();ay.selectAll("line").attr("stroke",o.axColor);
 ay.selectAll("text").attr("font-size",o.fs).attr("fill","#222").attr("font-family",FONT);
 g.append("line").attr("x1",o.axisX).attr("x2",o.axisX).attr("y1",610).attr("y2",o.axisY).attr("stroke",o.axColor).attr("stroke-width",o.axW);
 g.append("line").attr("x1",o.axisX-o.axW/2).attr("x2",o.axRight).attr("y1",o.axisY).attr("y2",o.axisY).attr("stroke",o.axColor).attr("stroke-width",o.axW);
 txt(g,o.idx,o.idy,"Identity",{size:12.2,anchor:"middle",rot:-90});
 txt(g,o.fx,o.fy,"Features",{size:12.2,anchor:"middle",base:"central"});
 // legends
 txt(g,o.lgX,o.aeTitleY,"Average Expression",{size:12.5,base:"central",fill:"#222"});
 txt(g,o.lgX,o.peTitleY,"Percent Expressed",{size:12.5,base:"central",fill:"#222"});
 const id="grad"+o.id;
 const gr=svg.append("defs").append("linearGradient").attr("id",id).attr("x1",0).attr("x2",0).attr("y1",1).attr("y2",0);
 d3.range(0,1.001,.05).forEach(t=>gr.append("stop").attr("offset",t).attr("stop-color",ramp(t)));
 const cb=d3.scaleLinear().domain([0,o.emax]).range([o.cb0,o.cb1]);
 g.append("rect").attr("x",o.lgX).attr("y",o.cb1).attr("width",o.cbW).attr("height",o.cb0-o.cb1).attr("fill",`url(#${id})`);
 o.eTicks.forEach(v=>{
  g.append("line").attr("x1",o.lgX).attr("x2",o.lgX+3).attr("y1",cb(v)).attr("y2",cb(v)).attr("stroke","#fff").attr("opacity",.6);
  g.append("line").attr("x1",o.lgX+o.cbW-3).attr("x2",o.lgX+o.cbW).attr("y1",cb(v)).attr("y2",cb(v)).attr("stroke","#fff").attr("opacity",.6);
  txt(g,o.lgX+o.cbW+6,cb(v),o.eFmt(v),{size:10.7,base:"central",fill:"#222"});
 });
 o.pTicks.forEach((v,i)=>{
  g.append("circle").attr("cx",o.pdX).attr("cy",o.pdY[i]).attr("r",r(v)).attr("fill","#000");
  txt(g,o.ptX,o.pdY[i],String(v),{size:10.7,base:"central",fill:"#222"});
 });
}
dotplot({id:"d",features:dFeatures,rows:dRows,pct:dPct,expr:dExpr,emax:dExprMax,x0:180.7,x1:863.3,y0:634.3,y1:1002.7,rmax:10.3,axisX:146.4,axisY:1027.3,axRight:897.7,axColor:"#333",axW:1.1,fs:11,lx:6,ly:13,idx:18,idy:818,fx:522,fy:1104,
 lgX:910,aeTitleY:718.7,peTitleY:818.7,cb0:800,cb1:730.7,cbW:14,eTicks:dExprTicks,eFmt:v=>String(v),pTicks:dPctTicks,pdX:923,pdY:[837.3,851.3,867.3,887.7,911.7],ptX:942});
dotplot({id:"e",features:eFeatures,rows:eRows,pct:ePct,expr:eExpr,emax:eExprMax,x0:1227.3,x1:1882.7,y0:634.3,y1:1007,rmax:9.6,axisX:1194.7,axisY:1031.7,axRight:1916,axColor:"#666",axW:1.7,fs:11,lx:6,ly:15,idx:1071,idy:820.7,fx:1555,fy:1084,
 lgX:1928,aeTitleY:832,peTitleY:737.3,cb0:910,cb1:843.3,cbW:13.3,eTicks:eExprTicks,eFmt:v=>v.toFixed(1),pTicks:ePctTicks,pdX:1938.3,pdY:[755.3,768.7,784,803.3],ptX:1955});
</script></body></html>
